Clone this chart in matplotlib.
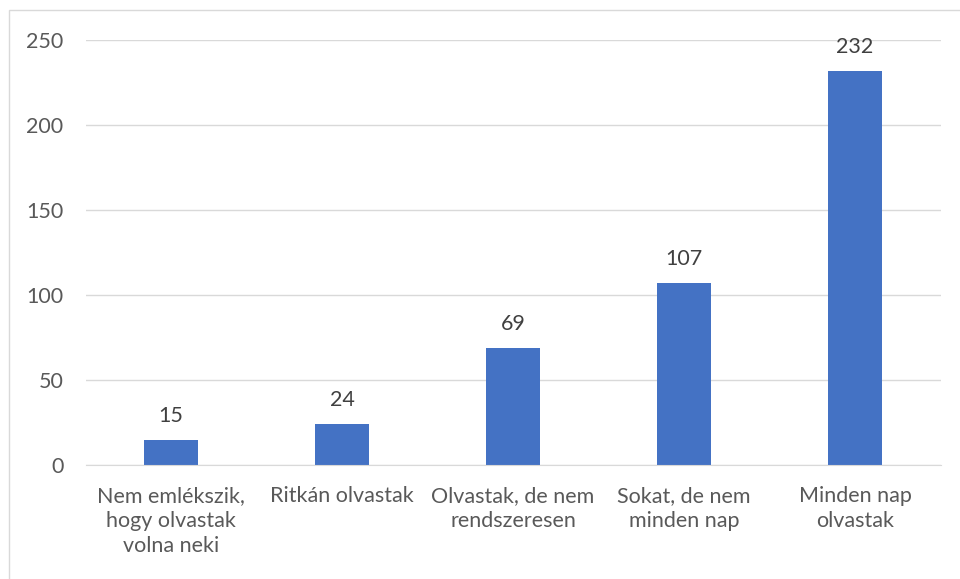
import matplotlib
matplotlib.use("Agg")
from matplotlib import pyplot as plt
from matplotlib.patches import Rectangle

categories = ["Nem emlékszik,\nhogy olvastak\nvolna neki", "Ritkán olvastak",
              "Olvastak, de nem\nrendszeresen", "Sokat, de nem\nminden nap",
              "Minden nap\nolvastak"]
values = [15, 24, 69, 107, 232]
yticks = [0, 50, 100, 150, 200, 250]

plt.rcParams['font.family'] = ['Lato', 'DejaVu Sans']
fs = 15.5

fig = plt.figure(figsize=(9.6, 5.79), dpi=100)
ax = fig.add_axes([85.5/960, 1-465/579, 855/960, 425/579])

x = range(len(values))
bars = ax.bar(x, values, width=0.316, color="#4472c4", zorder=3)
for i, v in enumerate(values):
    ax.annotate(str(v), (i, v), xytext=(0, 10), textcoords="offset points",
                ha="center", va="bottom", fontsize=fs, color="#404040")

ax.set_xlim(-0.5, len(values)-0.5)
ax.set_ylim(0, 250)
ax.set_yticks(yticks)
ax.set_xticks(list(x))
ax.set_xticklabels(categories, fontsize=fs, color="#595959", linespacing=1.32)
ax.tick_params(axis='y', labelsize=fs, labelcolor="#595959", length=0, pad=16)
ax.tick_params(axis='x', length=0, pad=15)
ax.grid(axis='y', color="#d9d9d9", linewidth=1, zorder=0)
for s in ['top', 'right', 'left']:
    ax.spines[s].set_visible(False)
ax.spines['bottom'].set_color("#d9d9d9")
ax.spines['bottom'].set_zorder(4)

# outer chart border
fig.patches.append(Rectangle((9/960, -0.1), 1.1, 1.1-10/579, transform=fig.transFigure,
                             fill=False, edgecolor="#d9d9d9", linewidth=1))

fig.savefig("out.png", dpi=100)
